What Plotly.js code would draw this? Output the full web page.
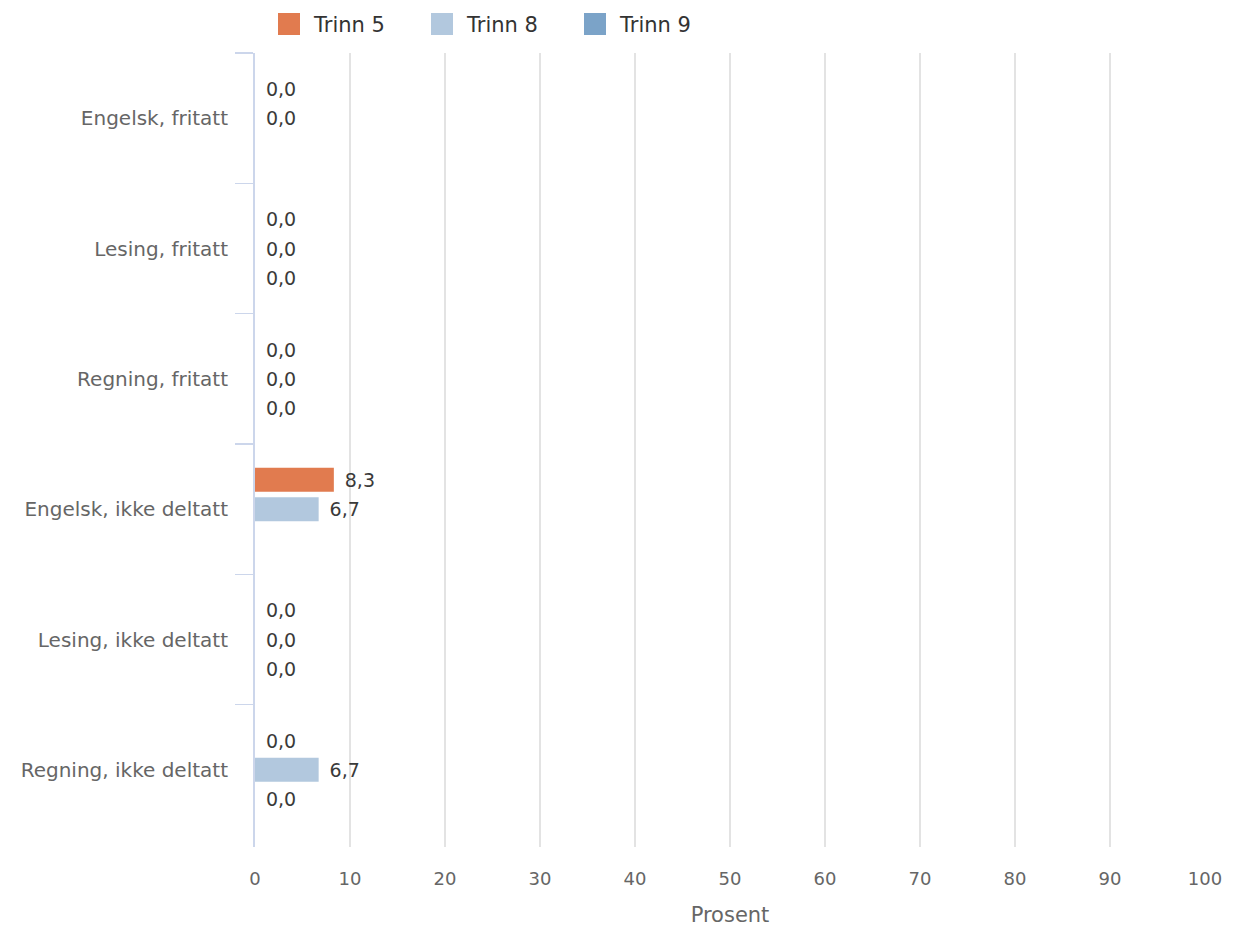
<!DOCTYPE html>
<html>
<head>
<meta charset="utf-8">
<script src="https://cdn.plot.ly/plotly-3.0.1.min.js"></script>
<style>
  html, body { margin: 0; padding: 0; background: #ffffff; }
  #chart { width: 1236px; height: 927px; }
</style>
</head>
<body>
<div id="chart"></div>
<script>
// Categories (top to bottom)
const categories = [
  'Engelsk, fritatt',
  'Lesing, fritatt',
  'Regning, fritatt',
  'Engelsk, ikke deltatt',
  'Lesing, ikke deltatt',
  'Regning, ikke deltatt'
];

// Series names and values in percent (null = no test for that grade)
const seriesNames = ['Trinn 5', 'Trinn 8', 'Trinn 9'];
const trinn5 = [0.0, 0.0, 0.0, 8.3, 0.0, 0.0];
const trinn8 = [0.0, 0.0, 0.0, 6.7, 0.0, 6.7];
const trinn9 = [null, 0.0, 0.0, null, 0.0, 0.0];
const seriesColors = ['#e17b4f', '#b2c8de', '#7ba3c8'];

// X axis ticks
const xTicks = [0, 10, 20, 30, 40, 50, 60, 70, 80, 90, 100];

const FONT = 'DejaVu Sans, Verdana, sans-serif';

// Plot frame in pixels
const W = 1236, H = 927;
const M = { l: 255, r: 31, t: 53, b: 80 };
const plotW = W - M.l - M.r;
const plotH = H - M.t - M.b;
const px2x = p => (p - M.l) / plotW;
const px2y = p => (H - M.b - p) / plotH;

const seriesValues = [trinn5, trinn8, trinn9];

const traces = seriesValues.map((vals, i) => ({
  type: 'bar',
  orientation: 'h',
  name: seriesNames[i],
  y: categories,
  x: vals,
  marker: { color: seriesColors[i], line: { width: 0 } },
  texttemplate: '\u00a0\u200a%{x:.1f}',
  textposition: 'outside',
  constraintext: 'none',
  cliponaxis: false,
  textfont: { family: FONT, size: 19, color: '#3a3a3a' },
  hoverinfo: 'skip',
  showlegend: false
}));

// Legend built from the series names and colours
const shapes = [];
const annotations = [];
const legendX0 = 278, legendStep = 153, sq = 22, legendY = 24;
seriesNames.forEach((name, i) => {
  const x0 = legendX0 + i * legendStep;
  shapes.push({
    type: 'rect', xref: 'paper', yref: 'paper',
    x0: px2x(x0), x1: px2x(x0 + sq),
    y0: px2y(legendY + sq / 2), y1: px2y(legendY - sq / 2),
    fillcolor: seriesColors[i], line: { width: 0 }
  });
  annotations.push({
    xref: 'paper', yref: 'paper',
    x: px2x(x0 + sq + 11), y: px2y(legendY + 1),
    xanchor: 'left', yanchor: 'middle',
    text: name, showarrow: false,
    font: { family: FONT, size: 21, color: '#333333' }
  });
});

const nCat = categories.length;
const catPx = 782 / nCat;

const layout = {
  width: W, height: H,
  margin: M,
  paper_bgcolor: '#ffffff',
  plot_bgcolor: '#ffffff',
  barmode: 'group',
  bargap: 0.325,
  bargroupgap: 0.18,
  separators: ', ',
  showlegend: false,
  font: { family: FONT, color: '#666666' },
  xaxis: {
    range: [0, 100],
    tickvals: xTicks,
    ticktext: xTicks.map(String),
    showgrid: true,
    gridcolor: '#e3e3e3',
    gridwidth: 2,
    zeroline: false,
    showline: false,
    ticks: '',
    ticklabelstandoff: 19,
    tickfont: { family: FONT, size: 18, color: '#666666' },
    title: {
      text: 'Prosent',
      font: { family: FONT, size: 21, color: '#666666' },
      standoff: 20
    },
    fixedrange: true
  },
  yaxis: {
    type: 'category',
    range: [nCat - 0.5 + 12 / catPx, -0.5],
    autorange: false,
    showgrid: false,
    zeroline: false,
    showline: true,
    linecolor: '#ccd6eb',
    linewidth: 2,
    ticks: 'outside',
    tickson: 'boundaries',
    ticklen: 18,
    tickwidth: 1.5,
    tickcolor: '#ccd6eb',
    ticklabelstandoff: 21,
    tickfont: { family: FONT, size: 20, color: '#666666' },
    fixedrange: true
  },
  shapes: shapes,
  annotations: annotations
};

Plotly.newPlot('chart', traces, layout, { displayModeBar: false, staticPlot: true });
</script>
</body>
</html>
